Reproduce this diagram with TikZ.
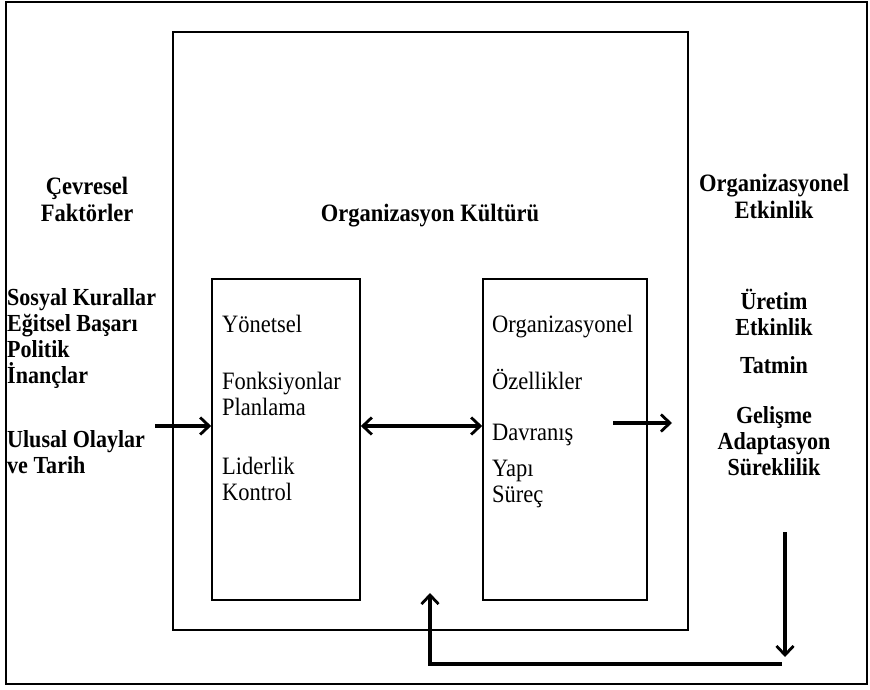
\documentclass[tikz,border=0pt]{standalone}
\usepackage{fontspec}
\setmainfont[FakeStretch=0.9]{Liberation Serif}
\usetikzlibrary{arrows.meta}
\begin{document}
\begin{tikzpicture}[x=1pt, y=-1pt, font=\fontsize{25}{26}\selectfont,
      >={Straight Barb[length=9pt, width=17pt, line width=2.8pt]},
      blk/.style={draw, line width=1.6pt, inner sep=0pt},
      head/.style={font=\fontsize{25}{27}\selectfont\bfseries, align=center, inner sep=0pt},
      lst/.style={font=\fontsize{24.5}{26}\selectfont\bfseries, inner sep=0pt},
      txt/.style={align=left, anchor=north west, inner sep=0pt},
      arr/.style={->, line width=3.4pt}]
    \useasboundingbox (0,0) rectangle (870,690);
    % frames
    \node[blk, line width=2.8pt, minimum width=861pt, minimum height=682pt] (frame) at (436.5,343) {};
    \node[blk, minimum width=515pt, minimum height=598pt] (kultur) at (430.5,331) {};
    \node[blk, minimum width=148pt, minimum height=321pt] (yon) at (286,439.5) {};
    \node[blk, minimum width=164pt, minimum height=321pt] (orz) at (565,439.5) {};
    % headings
    \node[head] (cevre) at (87,199) {Çevresel\\Faktörler};
    \node[head] (baslik) at (430,216) {Organizasyon Kültürü};
    \node[head] (etkin) at (774,196) {Organizasyonel\\Etkinlik};
    % lists
    \node[lst, align=left, anchor=north west] (fakt) at (7,288) {Sosyal Kurallar\\Eğitsel Başarı\\Politik\\İnançlar\\[38pt]Ulusal Olaylar\\ve Tarih};
    \node[lst, align=center, anchor=north] (sonuc) at (774,289) {Üretim\\Etkinlik\\[12pt]Tatmin\\[24pt]Gelişme\\Adaptasyon\\Süreklilik};
    \node[txt] (yontxt) at (222,315) {Yönetsel\\[31pt]Fonksiyonlar\\Planlama\\[33pt]Liderlik\\Kontrol};
    \node[txt] (orztxt) at (492,315) {Organizasyonel\\[31pt]Özellikler\\[25pt]Davranış\\[10pt]Yapı\\Süreç};
    % connectors
    \coordinate (girdi) at (155,426);
    \coordinate (cikti) at (613,423);
    \coordinate (ciktiuc) at (672,423);
    \coordinate (donust) at (785,532);
    \coordinate (donalt) at (785,657);
    \coordinate (donsag) at (782,664);
    \coordinate (donsol) at (430,664);
    \coordinate (donuc) at (430,593);
    \draw[arr] (girdi) -- (girdi -| yon.west);
    \draw[arr, <->] (yon.east |- 0,426) -- (orz.west |- 0,426);
    \draw[arr] (cikti) -- (ciktiuc);
    \draw[arr] (donust) -- (donalt);
    \draw[arr] (donsag) -- (donsol) -- (donuc);
  \end{tikzpicture}
\end{document}
